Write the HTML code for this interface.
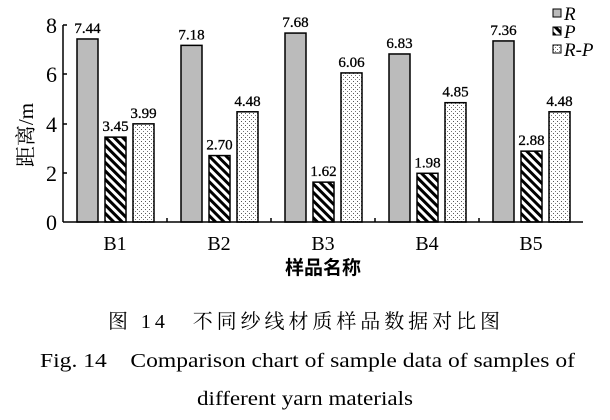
<!DOCTYPE html><html><head><meta charset="utf-8"><style>body{margin:0;background:#fff}svg{display:block}</style></head><body>
<svg width="610" height="420" xmlns="http://www.w3.org/2000/svg" font-family="Liberation Serif, Noto Serif CJK SC, serif">
<defs>
<pattern id="h" width="6" height="6" patternUnits="userSpaceOnUse" patternTransform="rotate(-45)"><rect width="6" height="6" fill="#fff"/><rect width="3" height="6" fill="#000"/></pattern>
<pattern id="d" width="4" height="4" patternUnits="userSpaceOnUse"><rect width="4" height="4" fill="#fff"/><rect x="1" y="1" width="1" height="1" fill="#555"/><rect x="3" y="3" width="1" height="1" fill="#777"/></pattern>
</defs>
<g id="bars" stroke="#000" stroke-width="1.5"></g>
<g font-size="22" text-anchor="end" fill="#000">
<text x="57" y="33">8</text><text x="57" y="82">6</text><text x="57" y="132">4</text><text x="57" y="181">2</text><text x="57" y="230">0</text></g>
<g stroke="#000" stroke-width="1.5"><line x1="63" y1="25" x2="63" y2="222"/><line x1="63" y1="222" x2="583" y2="222"/>
<line x1="63" y1="25" x2="67" y2="25"/><line x1="63" y1="74" x2="67" y2="74"/><line x1="63" y1="124" x2="67" y2="124"/><line x1="63" y1="173" x2="67" y2="173"/>
<line x1="167" y1="222" x2="167" y2="218"/><line x1="271" y1="222" x2="271" y2="218"/><line x1="375" y1="222" x2="375" y2="218"/><line x1="479" y1="222" x2="479" y2="218"/></g>
<text transform="translate(33,135) rotate(-90)" font-size="21" text-anchor="middle">距离/m</text>
<g font-size="20" text-anchor="middle"><text x="115" y="250">B1</text><text x="219" y="250">B2</text><text x="323" y="250">B3</text><text x="427" y="250">B4</text><text x="531" y="250">B5</text></g>
<text x="323" y="274" font-size="19" font-weight="bold" text-anchor="middle" font-family="Noto Sans CJK SC, sans-serif">样品名称</text>
<g font-size="19" font-style="italic">
<rect x="553" y="9" width="8" height="8" fill="#bbb" stroke="#000"/><text x="564" y="20">R</text>
<rect x="553" y="27" width="8" height="8" fill="url(#h)" stroke="#000"/><text x="564" y="38">P</text>
<rect x="553" y="45" width="8" height="8" fill="url(#d)" stroke="#000"/><text x="564" y="56">R-P</text></g>
<text x="108" y="328" font-size="20" textLength="392" lengthAdjust="spacing">图 14　不同纱线材质样品数据对比图</text>
<text x="40" y="367" font-size="20" textLength="535" lengthAdjust="spacingAndGlyphs">Fig. 14　Comparison chart of sample data of samples of</text>
<text x="197" y="405" font-size="20" textLength="216" lengthAdjust="spacingAndGlyphs">different yarn materials</text>
<g id="labels" font-size="15" text-anchor="middle" stroke="#000" stroke-width="0.3"></g>
</svg>
<script>
var d=[[7.44,3.45,3.99],[7.18,2.70,4.48],[7.68,1.62,6.06],[6.83,1.98,4.85],[7.36,2.88,4.48]];
var f=['#bbb','url(#h)','url(#d)'],b=document.getElementById('bars'),l=document.getElementById('labels'),ns='http://www.w3.org/2000/svg';
d.forEach(function(g,i){g.forEach(function(v,j){var x=77+i*104+j*28,y=222-v*24.6;
var r=document.createElementNS(ns,'rect');r.setAttribute('x',x);r.setAttribute('y',y);r.setAttribute('width',21);r.setAttribute('height',222-y);r.setAttribute('fill',f[j]);b.appendChild(r);
var t=document.createElementNS(ns,'text');t.setAttribute('x',x+10.5);t.setAttribute('y',y-6);t.textContent=v.toFixed(2);l.appendChild(t);});});
</script>
</body></html>
